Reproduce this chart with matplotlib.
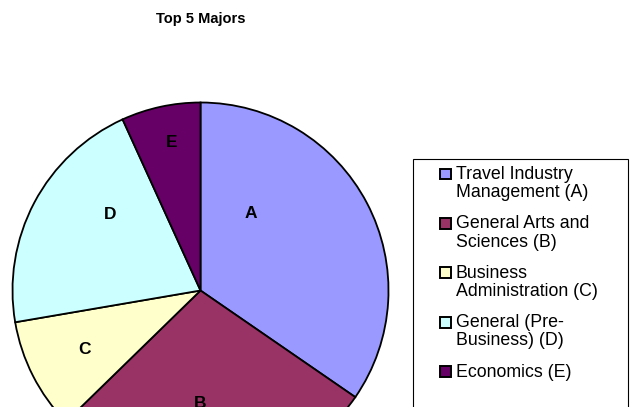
import matplotlib
matplotlib.use("Agg")
import matplotlib.pyplot as plt
from matplotlib.patches import Rectangle
import numpy as np

plt.rcParams['font.family'] = ['Liberation Sans', 'DejaVu Sans']

title = "Top 5 Majors"
letters = ["A", "B", "C", "D", "E"]
legend_labels = ["Travel Industry\nManagement (A)", "General Arts and\nSciences (B)",
                 "Business\nAdministration (C)", "General (Pre-\nBusiness) (D)",
                 "Economics (E)"]
values = [34.6, 28.1, 9.6, 20.9, 6.8]
colors = ["#9999FF", "#993366", "#FFFFCC", "#CCFFFF", "#660066"]

W, H = 632, 407
fig = plt.figure(figsize=(W / 100, H / 100), dpi=100)

def fx(x):
    return x / W

def fy(y):
    return 1 - y / H

# pie axes: center (200,290) px, radius 188 px
cx, cy, r = 200.5, 290.5, 188
ax = fig.add_axes([(cx - r) / W, 1 - (cy + r) / H, 2 * r / W, 2 * r / H])
wedges, _ = ax.pie(values, colors=colors, startangle=90, counterclock=False,
                   radius=1, wedgeprops=dict(edgecolor="black", linewidth=1.3))
ax.set_xlim(-1, 1)
ax.set_ylim(-1, 1)
ax.set_aspect("auto")
ax.axis("off")
for w in wedges:
    w.set_clip_on(False)

# label radii (fraction of radius) and angle offsets, Excel-like placement
label_r = [0.49, 0.60, 0.69, 0.63, 0.80]
label_dang = [29, -5, 0, -12, -1.3]
for w, lab, lr, da in zip(wedges, letters, label_r, label_dang):
    ang = np.deg2rad((w.theta1 + w.theta2) / 2 + da)
    ax.text(lr * np.cos(ang), lr * np.sin(ang), lab, ha="center", va="center",
            fontsize=12.5, fontweight="bold", color="black", clip_on=False)

fig.text(fx(201), fy(19), title, ha="center", va="center",
         fontsize=10.5, fontweight="bold")

# legend box (extends past the bottom edge)
fig.patches.append(Rectangle((fx(413), -0.1), (628 - 413) / W, fy(159) + 0.1,
                             transform=fig.transFigure, facecolor="white",
                             edgecolor="black", linewidth=0.8, zorder=0))

base0, step, line_h = 179.0, 49.4, 18.2
for i, (lab, c) in enumerate(zip(legend_labels, colors)):
    b = base0 + step * i
    fig.patches.append(Rectangle((fx(439.5), fy(b + 0.5)), 11 / W, 11 / H,
                                 transform=fig.transFigure, facecolor=c,
                                 edgecolor="black", linewidth=1.4, zorder=2))
    for j, line in enumerate(lab.split("\n")):
        fig.text(fx(455.5), fy(b + j * line_h), line, ha="left", va="baseline",
                 fontsize=12.8, color="black")

fig.savefig("out.png", dpi=100)
